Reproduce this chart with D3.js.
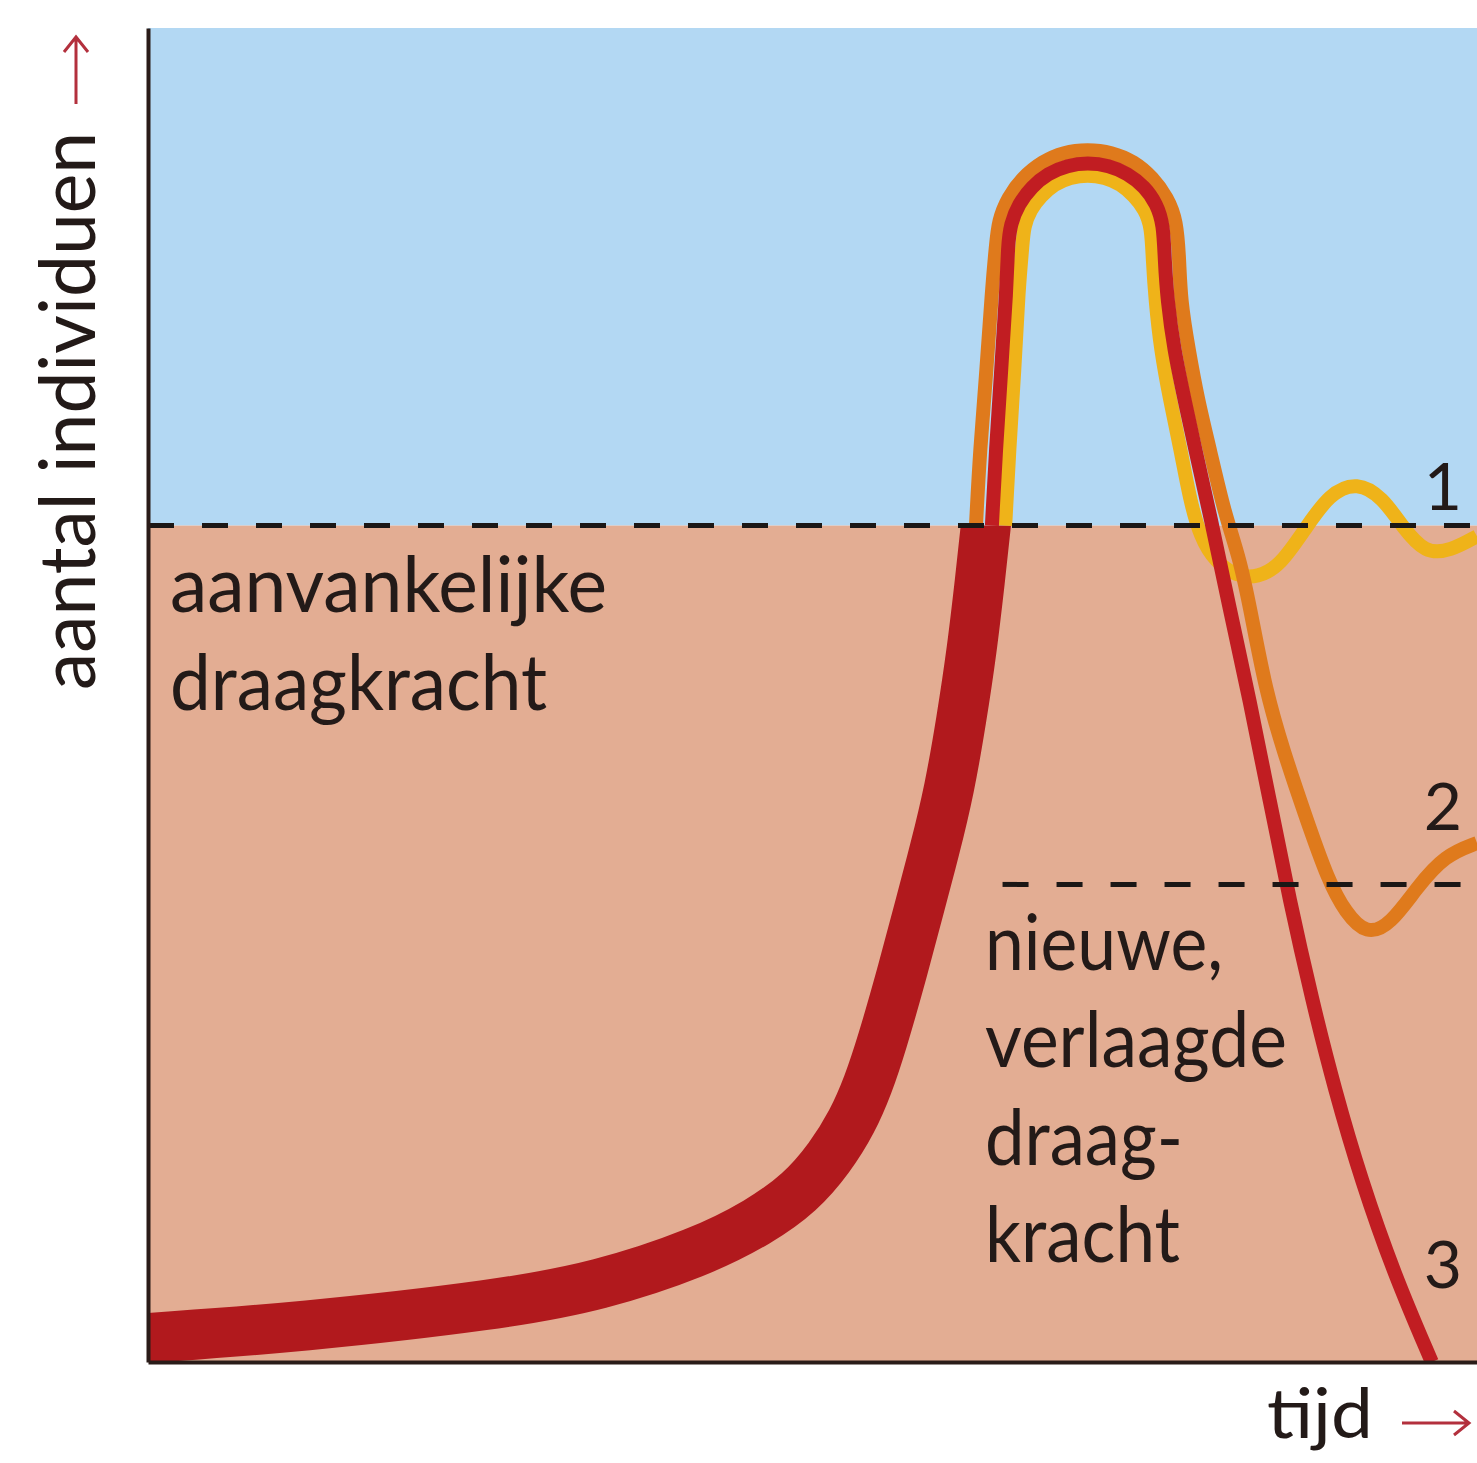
<!DOCTYPE html>
<html>
<head>
<meta charset="utf-8">
<script src="https://cdn.jsdelivr.net/npm/d3@7"></script>
<style>
  body { margin: 0; background: #fff; }
  text { font-family: Lato, "Open Sans", sans-serif; fill: #231a18; }
</style>
</head>
<body>
<div id="chart"></div>
<script>
// carrying capacities (aantal individuen, 0-100)
const kStart = 62.7;
const kNew = 35.8;
const kNewFrom = 64.3;

// [tijd, aantal]
const growth = [[0,1.8],[11.4,2.6],[26.5,4.3],[34.0,5.7],[41.5,8.2],[46.0,10.5],[49.1,12.7],
  [51.3,15.3],[53.0,18.0],[54.2,20.8],[55.2,23.8],[56.7,29.0],[58.1,34.3],[59.2,38.4],[60.3,42.9],
  [61.2,48.1],[62.0,53.4],[62.6,58.6],[63.1,63.1],[63.2,64.6]];

// curve 3: population crashes
const crash = [[63.5,62.7],[63.8,68.4],[64.2,74.4],[64.6,80.4],[64.7,83.7],[64.9,85.3],[65.5,86.8],
  [66.5,88.1],[67.7,89.1],[69.2,89.7],[70.7,89.9],[72.3,89.7],[73.7,89.1],[75.0,88.1],[75.9,86.8],
  [76.4,85.3],[76.5,82.6],[76.7,79.6],[77.2,75.9],[78.0,72.1],[78.8,68.4],[79.9,63.6],[81.4,56.4],
  [82.9,49.6],[84.4,42.1],[85.9,34.6],[87.6,27.1],[89.3,20.4],[91.3,13.6],[93.8,6.5],[96.6,0]];

// curve 2: settles at the lowered capacity
const lowered = [[62.3,62.7],[62.6,68.4],[63.1,74.4],[63.5,80.4],[63.8,83.7],[64.0,85.6],[64.7,87.3],
  [65.8,88.8],[67.3,90.0],[68.9,90.7],[70.7,90.9],[72.5,90.7],[74.2,90.0],[75.6,88.8],[76.7,87.3],
  [77.4,85.6],[77.6,82.6],[77.7,79.6],[78.3,75.9],[79.0,72.1],[79.9,68.4],[81.0,63.6],[82.2,60.1],
  [83.1,55.6],[84.1,50.4],[85.4,45.9],[87.1,40.9],[88.8,36.1],[90.1,33.7],[91.7,32.0],[93.5,32.8],
  [95.5,35.6],[97.6,38.0],[100,38.9]];

// curve 1: returns to the original capacity
const recovered = [[64.5,62.7],[64.8,68.4],[65.2,74.4],[65.5,80.4],[65.8,83.7],[65.9,85.1],[66.4,86.4],
  [67.2,87.4],[68.2,88.3],[69.4,88.8],[70.7,89.0],[72.0,88.8],[73.2,88.3],[74.2,87.4],[75.0,86.4],
  [75.5,85.1],[75.6,82.6],[75.8,79.6],[76.2,75.9],[76.9,72.1],[77.7,68.4],[78.4,64.6],[79.2,61.8],
  [80.3,60.0],[81.9,58.9],[83.5,58.8],[85.2,59.7],[87.1,62.5],[88.9,65.1],[91.0,66.0],[92.9,64.8],
  [94.4,62.6],[96.1,60.6],[98.0,60.8],[100,61.9]];

const width = 1477, height = 1463;
const x = d3.scaleLinear().domain([0, 100]).range([148, 1477]);
const y = d3.scaleLinear().domain([0, 100]).range([1362, 28]);

const svg = d3.select("#chart").append("svg")
  .attr("width", width)
  .attr("height", height);

const defs = svg.append("defs");
defs.append("clipPath").attr("id", "plot")
  .append("rect")
  .attr("x", x(0)).attr("y", y(100))
  .attr("width", x(100) - x(0)).attr("height", y(0) - y(100));
defs.append("clipPath").attr("id", "belowK")
  .append("rect")
  .attr("x", x(0)).attr("y", y(kStart))
  .attr("width", x(100) - x(0)).attr("height", y(0) - y(kStart));

// background zones
svg.append("rect")
  .attr("x", x(0)).attr("y", y(100))
  .attr("width", x(100) - x(0)).attr("height", y(kStart) - y(100))
  .style("fill", "#b3d8f3");
svg.append("rect")
  .attr("x", x(0)).attr("y", y(kStart))
  .attr("width", x(100) - x(0)).attr("height", y(0) - y(kStart))
  .style("fill", "#e3ad93");

let line = d3.line()
  .x(d => x(d[0]))
  .y(d => y(d[1]))
  .curve(d3.curveBasis);

// thick growth band
svg.append("path")
  .attr("d", line(growth))
  .attr("clip-path", "url(#belowK)")
  .style("fill", "none")
  .style("stroke", "#b1191d")
  .style("stroke-width", 50);

let curves = svg.append("g").attr("clip-path", "url(#plot)");
[[recovered, "#efb319"], [lowered, "#df7a1c"], [crash, "#c11d22"]].forEach(([data, color]) => {
  curves.append("path")
    .attr("d", line(data))
    .style("fill", "none")
    .style("stroke", color)
    .style("stroke-width", 14);
});

// carrying capacity lines
svg.append("line")
  .attr("x1", x(0)).attr("x2", x(100))
  .attr("y1", y(kStart)).attr("y2", y(kStart))
  .style("stroke", "#1b1716")
  .style("stroke-width", 5)
  .style("stroke-dasharray", "26,28");
svg.append("line")
  .attr("x1", x(kNewFrom)).attr("x2", x(100))
  .attr("y1", y(kNew)).attr("y2", y(kNew))
  .style("stroke", "#1b1716")
  .style("stroke-width", 5)
  .style("stroke-dasharray", "26,28");

// axes without ticks
let axisColor = "#2a1c19";
svg.append("g")
  .attr("transform", `translate(${x(0)},0)`)
  .call(d3.axisLeft(y).tickValues([]).tickSizeOuter(0))
  .call(g => g.select(".domain").style("stroke", axisColor).style("stroke-width", 4));
svg.append("g")
  .attr("transform", `translate(0,${y(0)})`)
  .call(d3.axisBottom(x).tickValues([]).tickSizeOuter(0))
  .call(g => g.select(".domain").style("stroke", axisColor).style("stroke-width", 4));

// labels
let labels = [
  ["aanvankelijke", 170, 612, 437],
  ["draagkracht", 170, 710, 377],
  ["nieuwe,", 985, 970, 238],
  ["verlaagde", 985, 1067, 302],
  ["draag-", 985, 1165, 198],
  ["kracht", 985, 1262, 195]
];
labels.forEach(([t, lx, ly, len]) => {
  svg.append("text")
    .text(t)
    .attr("x", lx).attr("y", ly)
    .attr("textLength", len)
    .attr("lengthAdjust", "spacingAndGlyphs")
    .style("font-size", "78px");
});

[["1", 510], ["2", 830], ["3", 1288]].forEach(([t, ly]) => {
  svg.append("text")
    .text(t)
    .attr("x", 1443).attr("y", ly)
    .attr("text-anchor", "middle")
    .style("font-size", "66px");
});

svg.append("text")
  .text("aantal individuen")
  .attr("transform", "translate(95,690) rotate(-90)")
  .attr("textLength", 558)
  .attr("lengthAdjust", "spacingAndGlyphs")
  .style("font-size", "78px");

svg.append("text")
  .text("tijd")
  .attr("x", 1267).attr("y", 1438)
  .attr("textLength", 106)
  .attr("lengthAdjust", "spacingAndGlyphs")
  .style("font-size", "70px");

// red arrows
let arrowColor = "#b3303d";
svg.append("path")
  .attr("d", "M76,104 L76,37 M64,52 L76,37 L88,52")
  .style("fill", "none").style("stroke", arrowColor).style("stroke-width", 3);
svg.append("path")
  .attr("d", "M1402,1423 L1469,1423 M1454,1411 L1469,1423 L1454,1435")
  .style("fill", "none").style("stroke", arrowColor).style("stroke-width", 3);
</script>
</body>
</html>
